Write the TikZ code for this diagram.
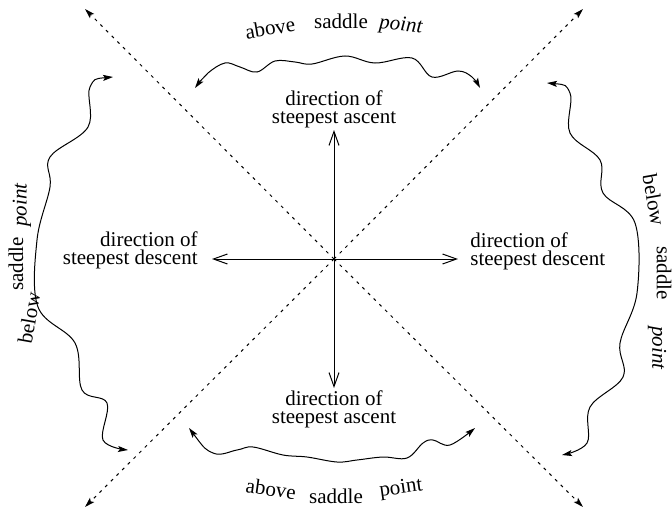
\documentclass[tikz,border=0pt]{standalone}
\usepackage{fontspec}
\setmainfont{Liberation Serif}
\usetikzlibrary{arrows.meta}
\begin{document}
\begin{tikzpicture}[x=0.5pt,y=-0.5pt,
  axisarrow/.style={line width=0.5pt,-{Straight Barb[length=7pt,width=5pt]}},
  diagline/.style={line width=0.5pt,dash pattern=on 1.5pt off 2.5pt,-{Stealth[length=5pt,width=3pt,inset=1pt]}},
  wavy/.style={line width=0.5pt,{Stealth[length=5pt,width=3pt,inset=1pt]}-{Stealth[length=5pt,width=3pt,inset=1pt]}},
  dirtext/.style={font=\fontsize{10.5}{9}\selectfont,inner sep=0pt},
  lbl/.style={font=\fontsize{10.5}{12}\selectfont,inner sep=0pt}
]
\useasboundingbox (0,0) rectangle (672,508);
% centre and ends
\coordinate (c) at (334,259);
\coordinate (up) at (334,130);
\coordinate (down) at (334,388);
\coordinate (left) at (212,259);
\coordinate (right) at (458,259);
\coordinate (tl) at (85,9);
\coordinate (tr) at (583,9);
\coordinate (bl) at (85,507);
\coordinate (br) at (583,507);
% dashed diagonals
\draw[diagline] (c) -- (tl);
\draw[diagline] (c) -- (tr);
\draw[diagline] (c) -- (bl);
\draw[diagline] (c) -- (br);
% axes
\draw[axisarrow] (c) -- (up);
\draw[axisarrow] (c) -- (down);
\draw[axisarrow] (c) -- (left);
\draw[axisarrow] (c) -- (right);
% direction labels
\node[dirtext,align=center] (asctop) at (334,109) {direction of\\steepest ascent};
\node[dirtext,align=center] (ascbot) at (334,409) {direction of\\steepest ascent};
\node[dirtext,align=right,anchor=east] (descl) at (198,250) {direction of\\steepest descent};
\node[dirtext,align=left,anchor=west] (descr) at (470,251) {direction of\\steepest descent};
% wavy arrows
\draw[wavy] plot[smooth,tension=0.6] coordinates {(195,88) (208,73) (225,63) (240,67) (257,72) (275,61) (295,62) (312,64) (345,56) (375,63) (412,58) (432,77) (458,71) (472,77) (480,88)};
\draw[wavy] plot[smooth,tension=0.6] coordinates {(189,428) (213,453) (237,450) (253,447) (283,455) (307,457) (337,462) (357,460) (383,457) (407,458) (423,443) (433,440) (450,445) (475,428)};
\draw[wavy] plot[smooth,tension=0.6] coordinates {(113,77) (90,87) (88,127) (50,157) (50,187) (37,240) (38,307) (75,343) (82,390) (107,403) (103,440) (128,450)};
\draw[wavy] plot[smooth,tension=0.6] coordinates {(547,83) (570,93) (570,133) (600,160) (603,193) (635,223) (637,293) (620,343) (623,377) (590,407) (587,443) (562,455)};
% curved labels
\node[lbl,rotate=10] (ta) at (270,28) {above};
\node[lbl] (ts) at (341,21) {saddle};
\node[lbl,rotate=-5] (tp) at (401,26) {\textit{point}};
\node[lbl,rotate=-8] (ba) at (271,489) {above};
\node[lbl] (bs) at (336,496) {saddle};
\node[lbl,rotate=8] (bp) at (401,489) {point};
\node[lbl,rotate=90] (lp) at (22,205) {\textit{point}};
\node[lbl,rotate=90] (ls) at (16,264) {saddle};
\node[lbl,rotate=80] (lb) at (29,318) {below};
\node[lbl,rotate=-80] (rb) at (654,200) {below};
\node[lbl,rotate=-90] (rs) at (664,273) {saddle};
\node[lbl,rotate=-90] (rp) at (657,348) {\textit{point}};
\end{tikzpicture}
\end{document}
